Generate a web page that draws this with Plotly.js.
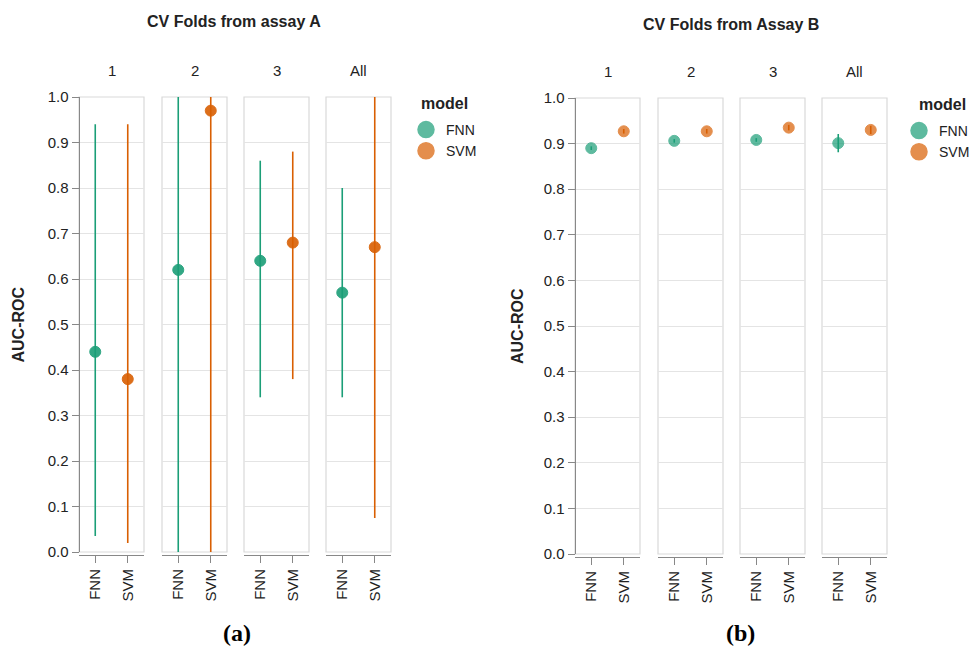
<!DOCTYPE html>
<html>
<head>
<meta charset="utf-8">
<script src="https://cdn.plot.ly/plotly-3.0.1.min.js"></script>
<style>html,body{margin:0;padding:0;background:#fff;}#chart{width:971px;height:647px;}</style>
</head>
<body>
<div id="chart"></div>
<script>
// ---------- DATA ----------
const folds = ['1', '2', '3', 'All'];
const models = ['FNN', 'SVM'];
const chartTitles = ['CV Folds from assay A', 'CV Folds from Assay B'];
const subLabels = ['(a)', '(b)'];
const yTickVals = [0, 0.1, 0.2, 0.3, 0.4, 0.5, 0.6, 0.7, 0.8, 0.9, 1.0];
const yTickText = ['0.0', '0.1', '0.2', '0.3', '0.4', '0.5', '0.6', '0.7', '0.8', '0.9', '1.0'];

// Assay A (mean, lower, upper) per fold
const aFnnMean = [0.44, 0.62, 0.64, 0.57];
const aFnnLo   = [0.035, 0.0, 0.34, 0.34];
const aFnnHi   = [0.94, 1.0, 0.86, 0.80];
const aSvmMean = [0.38, 0.97, 0.68, 0.67];
const aSvmLo   = [0.02, 0.0, 0.38, 0.075];
const aSvmHi   = [0.94, 1.0, 0.88, 1.0];

// Assay B
const bFnnMean = [0.890, 0.906, 0.908, 0.901];
const bFnnLo   = [0.886, 0.902, 0.904, 0.881];
const bFnnHi   = [0.894, 0.910, 0.912, 0.921];
const bSvmMean = [0.927, 0.927, 0.935, 0.930];
const bSvmLo   = [0.922, 0.922, 0.929, 0.921];
const bSvmHi   = [0.932, 0.932, 0.941, 0.939];

// ---------- LAYOUT CONSTANTS ----------
const W = 971, H = 647;
const colors = {FNN: '#1b9e77', SVM: '#d95f02'};
const charts = [
  {panels: [[79,144],[162,227],[244,309],[326,391]], top: 97, bottom: 552, xAxisY: 555,
   titleX: 234, titleY: 22, facetY: 70, yTitleX: 18, labX: 237, legX: 406, legY: 114, legTitleX: 419, legTitleY: 103, opacity: 0.9,
   data: {FNN: [aFnnMean, aFnnLo, aFnnHi], SVM: [aSvmMean, aSvmLo, aSvmHi]}},
  {panels: [[575,640],[658,723],[740,805],[822,887]], top: 98, bottom: 554, xAxisY: 557,
   titleX: 731, titleY: 25, facetY: 72, yTitleX: 517, labX: 740, legX: 899, legY: 115, legTitleX: 917, legTitleY: 104, opacity: 0.7,
   data: {FNN: [bFnnMean, bFnnLo, bFnnHi], SVM: [bSvmMean, bSvmLo, bSvmHi]}}
];

const px = v => v / W;
const py = v => 1 - v / H;
const font = 'Liberation Sans, Arial, Helvetica, sans-serif';

const traces = [];
const layout = {
  width: W, height: H,
  margin: {l: 0, r: 0, t: 0, b: 0, autoexpand: false},
  paper_bgcolor: '#fff', plot_bgcolor: 'rgba(0,0,0,0)',
  font: {family: font, size: 15, color: '#222'},
  showlegend: true,
  annotations: [], shapes: []
};

let k = 0;
charts.forEach((c, ci) => {
  const legName = ci === 0 ? 'legend' : 'legend2';
  c.panels.forEach((p, pi) => {
    k += 1;
    const xa = 'xaxis' + (k === 1 ? '' : k);
    const ya = 'yaxis' + (k === 1 ? '' : k);
    const xr = 'x' + (k === 1 ? '' : k);
    const yr = 'y' + (k === 1 ? '' : k);
    layout[xa] = {
      domain: [px(p[0]), px(p[1])],
      anchor: 'free', position: py(c.xAxisY),
      type: 'category', categoryorder: 'array', categoryarray: models,
      range: [-0.5, 1.5], showgrid: false, zeroline: false,
      showline: true, linecolor: '#888', linewidth: 1,
      ticks: 'outside', ticklen: 7, tickcolor: '#888', tickwidth: 1,
      tickangle: -90, tickfont: {size: 15, color: '#222'}, fixedrange: true
    };
    const yObj = {
      domain: [py(c.bottom), py(c.top)],
      range: [0, 1], tickvals: yTickVals, ticktext: yTickText,
      showgrid: true, gridcolor: '#e4e4e4', gridwidth: 1, zeroline: false,
      fixedrange: true
    };
    if (pi === 0) {
      Object.assign(yObj, {anchor: 'free', position: px(p[0] - 0.5), showline: true, linecolor: '#888',
        ticks: 'outside', ticklen: 7, tickcolor: '#888', showticklabels: true,
        tickfont: {size: 15, color: '#222'}});
    } else {
      Object.assign(yObj, {anchor: xr, showline: false, ticks: '', showticklabels: false});
    }
    layout[ya] = yObj;

    // panel border
    layout.shapes.push({type: 'rect', xref: 'paper', yref: 'paper',
      x0: px(p[0]), x1: px(p[1]), y0: py(c.bottom), y1: py(c.top),
      line: {color: '#d9d9d9', width: 1.2}, fillcolor: 'rgba(0,0,0,0)', layer: 'below'});

    // facet label
    layout.annotations.push({xref: 'paper', yref: 'paper', x: px((p[0] + p[1]) / 2), y: py(c.facetY),
      text: folds[pi], showarrow: false, font: {size: 15, color: '#222'}, xanchor: 'center', yanchor: 'middle'});

    models.forEach(m => {
      const [mean, lo, hi] = c.data[m];
      traces.push({
        type: 'scatter', mode: 'markers', xaxis: xr, yaxis: yr,
        x: [m], y: [mean[pi]], name: m, showlegend: false, cliponaxis: false,
        marker: {color: colors[m], size: 11, opacity: c.opacity, line: {color: colors[m], width: 1}},
        error_y: {type: 'data', symmetric: false, array: [hi[pi] - mean[pi]], arrayminus: [mean[pi] - lo[pi]],
          color: colors[m], thickness: 1.6, width: 0},
        hoverinfo: 'x+y'
      });
    });
  });

  // legend entries
  models.forEach(m => {
    traces.push({type: 'scatter', mode: 'markers', x: [null], y: [null],
      xaxis: ci === 0 ? 'x' : 'x5', yaxis: ci === 0 ? 'y' : 'y5',
      name: m, legend: legName, showlegend: true,
      marker: {color: colors[m], size: 16, opacity: 0.7, line: {color: colors[m], width: 1.5}}});
  });
  layout[legName] = {x: px(c.legX), y: py(c.legY), xanchor: 'left', yanchor: 'top',
    font: {size: 14, color: '#222'}, bgcolor: 'rgba(0,0,0,0)', tracegroupgap: 0, itemwidth: 30};

  // legend title
  layout.annotations.push({xref: 'paper', yref: 'paper', x: px(c.legTitleX), y: py(c.legTitleY),
    text: '<b>model</b>', showarrow: false, font: {size: 16, color: '#222'}, xanchor: 'left', yanchor: 'middle'});

  // titles
  layout.annotations.push({xref: 'paper', yref: 'paper', x: px(c.titleX), y: py(c.titleY),
    text: '<b>' + chartTitles[ci] + '</b>', showarrow: false, font: {size: 16, color: '#222'}, xanchor: 'center', yanchor: 'middle'});
  layout.annotations.push({xref: 'paper', yref: 'paper', x: px(c.yTitleX), y: py((c.top + c.bottom) / 2),
    text: '<b>AUC-ROC</b>', textangle: -90, showarrow: false, font: {size: 16, color: '#222'}, xanchor: 'center', yanchor: 'middle'});
  layout.annotations.push({xref: 'paper', yref: 'paper', x: px(c.labX), y: py(633),
    text: '<b>' + subLabels[ci] + '</b>', showarrow: false,
    font: {family: 'Liberation Serif, Times New Roman, serif', size: 24, color: '#000'}, xanchor: 'center', yanchor: 'middle'});
});

Plotly.newPlot('chart', traces, layout, {displayModeBar: false, staticPlot: true});
</script>
</body>
</html>
